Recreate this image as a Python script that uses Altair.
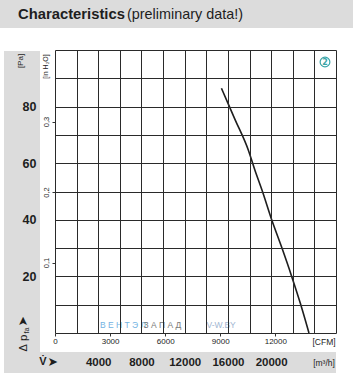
import altair as alt
import pandas as pd

# ---------------- data ----------------
flow_m3h = [15400, 16650, 17900, 18500, 19150, 20050, 21000, 21900, 22700, 23500]
pressure_pa = [86.5, 75.5, 64.5, 57.5, 50.5, 40.0, 30.0, 20.0, 10.5, 0.0]

m3h_grid = list(range(0, 26001, 2000))
m3h_labels = [4000, 8000, 12000, 16000, 20000]
pa_grid = list(range(0, 101, 10))
pa_labels = [20, 40, 60, 80]
cfm_ticks = [0, 3000, 6000, 9000, 12000]
inh2o_ticks = [0.1, 0.2, 0.3]

M3H_PER_CFM = 1.69901
PA_PER_INH2O = 249.089
X_MAX = 26000
Y_MAX = 100

NARROW = "Liberation Sans, Arial, sans-serif"
SANS = "DejaVu Sans, sans-serif"
INK = "#1e1e1e"
GRID = "#2a2a2a"
BAND = "#dcdcdc"
TEAL = "#3aa5a8"


def one():
    return pd.DataFrame({"a": [0]})


def band(x, x2, y, y2, color=BAND):
    return alt.Chart(one()).mark_rect(color=color).encode(
        x=alt.value(x), x2=alt.value(x2), y=alt.value(y), y2=alt.value(y2)
    )


def txt(s, x, y, size, color=INK, weight="normal", font=NARROW,
        align="left", baseline="alphabetic", angle=0):
    return alt.Chart(pd.DataFrame({"t": [s]})).mark_text(
        align=align, baseline=baseline, font=font, fontSize=size,
        fontWeight=weight, color=color, angle=angle
    ).encode(x=alt.value(x), y=alt.value(y), text="t:N")


def in_list_expr(vals):
    return "indexof([" + ",".join(str(v) for v in vals) + "], datum.value) >= 0 ? format(datum.value, 'd') : ''"


# ---------------- main curve with grid, m3/h and Pa axes ----------------
curve_df = pd.DataFrame({"flow": flow_m3h, "pressure": pressure_pa})
curve = alt.Chart(curve_df).mark_line(color=INK, strokeWidth=1.6, interpolate="monotone").encode(
    x=alt.X(
        "flow:Q",
        scale=alt.Scale(domain=[0, X_MAX], nice=False, zero=False),
        axis=alt.Axis(
            values=m3h_grid, grid=True, gridColor=GRID, gridWidth=1, gridOpacity=1,
            ticks=False, tickSize=0, domain=False, labelExpr=in_list_expr(m3h_labels),
            labelFont=NARROW, labelFontWeight="bold", labelFontSize=11.5, labelColor=INK,
            labelPadding=29, labelBaseline="middle", labelFlush=False, labelOverlap=False,
            title=None, zindex=1,
        ),
    ),
    y=alt.Y(
        "pressure:Q",
        scale=alt.Scale(domain=[0, Y_MAX], nice=False, zero=False),
        axis=alt.Axis(
            values=pa_grid, grid=True, gridColor=GRID, gridWidth=1, gridOpacity=1,
            ticks=False, tickSize=0, domain=False, labelExpr=in_list_expr(pa_labels),
            labelFont=NARROW, labelFontWeight="bold", labelFontSize=12.5, labelColor=INK,
            labelPadding=19, labelAlign="right", labelBaseline="middle", labelFlush=False,
            labelOverlap=False, title=None, zindex=1,
        ),
    ),
)

# ---------------- CFM secondary x axis ----------------
cfm_layer = alt.Chart(pd.DataFrame({"cfm": cfm_ticks})).mark_point(opacity=0).encode(
    x=alt.X(
        "cfm:Q",
        scale=alt.Scale(domain=[0, X_MAX / M3H_PER_CFM], nice=False, zero=False),
        axis=alt.Axis(
            orient="bottom", values=cfm_ticks, grid=False, domain=False, ticks=True,
            tickSize=3, tickColor="#333333", tickWidth=1, labelFont=NARROW, labelFontSize=8,
            labelColor=INK, labelPadding=5, labelBaseline="middle", format="d",
            labelFlush=False, labelOverlap=False, title=None, zindex=1,
        ),
    )
)

# ---------------- inH2O secondary y axis ----------------
h2o_layer = alt.Chart(pd.DataFrame({"inh2o": inh2o_ticks})).mark_point(opacity=0).encode(
    y=alt.Y(
        "inh2o:Q",
        scale=alt.Scale(domain=[0, Y_MAX / PA_PER_INH2O], nice=False, zero=False),
        axis=alt.Axis(
            orient="left", values=inh2o_ticks, grid=False, domain=False, ticks=True,
            tickSize=3, tickColor="#333333", tickWidth=1, labelAngle=270, labelAlign="center",
            labelBaseline="bottom", labelPadding=1.5, labelFont=NARROW, labelFontSize=7.5,
            labelColor=INK, labelExpr="replace(format(datum.value, '.1f'), '.', ',')",
            labelFlush=False, labelOverlap=False, title=None, zindex=1,
        ),
    )
)

# ---------------- decorations ----------------
bands = [
    band(-55, 298, -50, -22),          # title band
    band(-51, -15, 1, 302),            # left band
    band(-51, 281, 302, 323),          # bottom band
]

texts = [
    txt("Characteristics", -37, -31.5, 14.8, weight="bold"),
    txt("(preliminary data!)", 72, -31.5, 14.4),
    txt("[Pa]", -30, 11, 8, angle=270, align="center", baseline="bottom"),
    txt("[in H\u2082O]", -6.5, 16.5, 7, angle=270, align="center", baseline="bottom"),
    txt("[CFM]", 269, 291.7, 8.5, align="center", baseline="middle"),
    txt("[m\u00b3/h]", 269, 313.3, 8.5, align="center", baseline="middle"),
    txt("V\u0307", -15.7, 315, 11, weight="bold"),
    txt("\u27a4", -7.5, 316, 12.5, font=SANS),
    txt("\u0394", -28.5, 301.5, 11, angle=270),
    txt("p", -28.5, 291, 11.5, angle=270),
    txt("fa", -26.5, 283.5, 7, angle=270),
    txt("\u27a4", -28.5, 276.5, 12.5, font=SANS, angle=270),
    txt("\u0412 \u0415 \u041d \u0422 \u042d \u041b", 45, 278, 8.5, color="#74b3e2", font=NARROW),
    txt("\u0417 \u0410 \u041f \u0410 \u0414", 88.5, 278, 8.5, color="#7a7a7a", font=NARROW),
    txt("V-W.BY", 151.5, 278, 8.5, color="#9fb6d2", font=NARROW),
    txt("2", 270, 12.5, 8, color=TEAL, weight="bold", font=SANS, align="center", baseline="middle"),
]

circle = alt.Chart(one()).mark_point(
    shape="circle", size=95, filled=False, stroke=TEAL, strokeWidth=1.2, opacity=1
).encode(x=alt.value(270), y=alt.value(12))

chart = alt.layer(
    *bands, curve, cfm_layer, h2o_layer, circle, *texts
).resolve_scale(
    x="independent", y="independent"
).properties(
    width=281, height=283,
    padding={"left": 55, "top": 50, "right": 17, "bottom": 53},
    autosize=alt.AutoSizeParams(type="none"),
    background="white",
).configure_view(strokeWidth=0)

chart.save("out.html", embed_options={"renderer": "svg", "actions": False})
